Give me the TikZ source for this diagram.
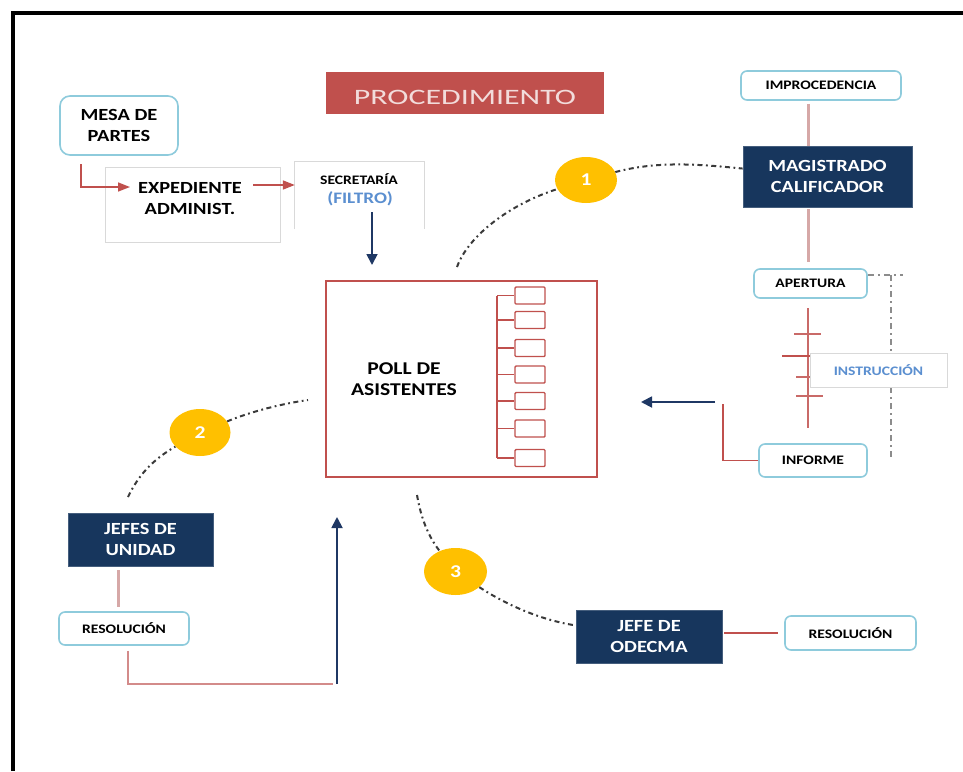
\documentclass[tikz,border=0pt]{standalone}
\usepackage{fontspec}
\setmainfont{Carlito}
\newfontfamily\bodyfont[FakeStretch=1.2]{Carlito}
\newfontfamily\headfont[FakeStretch=1.45]{Carlito}
\usetikzlibrary{arrows.meta,shapes.geometric}

\definecolor{brick}{HTML}{C0504D}
\definecolor{navy}{HTML}{17365D}
\definecolor{navyline}{HTML}{1F3864}
\definecolor{sky}{HTML}{8ECBDC}
\definecolor{paleline}{HTML}{D9D9D9}
\definecolor{rosy}{HTML}{D6A8A7}
\definecolor{salmon}{HTML}{D38B8A}
\definecolor{amber}{HTML}{FFC000}
\definecolor{steel}{HTML}{5B8FD0}
\definecolor{blush}{HTML}{F2DCDB}
\definecolor{ink}{HTML}{3A3A3A}
\definecolor{ash}{HTML}{8C8C8C}

\tikzset{
  bigtxt/.style={font=\bodyfont\bfseries\fontsize{17}{21}\selectfont, align=center, inner sep=0pt},
  smalltxt/.style={font=\bodyfont\bfseries\fontsize{13}{16}\selectfont, align=center, inner sep=0pt},
  pill/.style={smalltxt, draw=sky, line width=1.6pt, rounded corners=6pt, fill=white},
  plainbox/.style={draw=paleline, line width=1pt, inner sep=0pt},
  navybox/.style={bigtxt, fill=navy, draw=navy!80!white, line width=0.8pt, text=white},
  titlebox/.style={fill=brick, inner sep=0pt, minimum width=278pt, minimum height=42pt},
  badge/.style={ellipse, fill=amber, inner sep=0pt, text=white,
                font=\bodyfont\bfseries\fontsize{18}{20}\selectfont},
  member/.style={draw=brick, line width=1.4pt, fill=white, rounded corners=1pt,
                 minimum width=30pt, minimum height=17pt, inner sep=0pt},
  redarrow/.style={draw=brick, line width=1.6pt, -{Triangle[length=12pt,width=9pt]}},
  navyarrow/.style={draw=navyline, line width=1.8pt, -{Triangle[length=11pt,width=11pt]}},
  redline/.style={draw=brick, line width=1.5pt},
  rosyline/.style={draw=rosy, line width=3pt},
  phaseline/.style={draw=ink, line width=2pt, dash pattern=on 5pt off 3.5pt on 1.8pt off 3.5pt},
  railline/.style={draw=ash, line width=2.2pt, dash pattern=on 6pt off 4pt on 2pt off 4pt},
}

\begin{document}
\begin{tikzpicture}[x=1pt,y=-1pt]
\useasboundingbox (0,0) rectangle (963,771);
\fill[white] (0,0) rectangle (963,771);

% frame
\draw[line width=4pt, line join=miter] (13,771) -- (13,13) -- (963,13);

% heading
\node[titlebox] (title) at (465,93) {};
\node[inner sep=0pt, text=blush, font=\headfont\fontsize{22}{24}\selectfont] (titlet) at (465,97) {PROCEDIMIENTO};

% intake chain
\node[pill, rounded corners=10pt, bigtxt, minimum width=118pt, minimum height=59pt] (mesa) at (119,125.5) {MESA DE\\PARTES};
\node[plainbox, minimum width=175pt, minimum height=75pt] (exp) at (192.5,204.5) {};
\node[bigtxt] (expt) at (190,199) {EXPEDIENTE\\ADMINIST.};
\node[minimum width=129pt, minimum height=67pt, inner sep=0pt] (sec) at (359.5,195.5) {};
\draw[paleline, line width=1pt] (sec.south west) -- (sec.north west) -- (sec.north east) -- (sec.south east);
\node[smalltxt] (sect) at (359,179) {SECRETARÍA};
\node[smalltxt, text=steel, font=\bodyfont\bfseries\fontsize{16}{18}\selectfont] (filt) at (360,199) {(FILTRO)};

\coordinate (mesaout) at (81,164);
\coordinate (expin) at (130,187);
\draw[redarrow] (mesaout) |- (expin);
\coordinate (expout) at (253,185);
\draw[redarrow] (expout) -- (expout -| sec.west);
\coordinate (secout) at (372,212);
\draw[navyarrow, shorten >=16pt] (secout) -- (secout |- exp.south) -- (secout |- 0,281);

% central pool
\node[draw=brick, line width=2.5pt, minimum width=271pt, minimum height=196pt, inner sep=0pt] (poll) at (461.5,379) {};
\node[bigtxt, font=\bodyfont\bfseries\fontsize{18}{21.5}\selectfont] (pollt) at (404,379) {POLL DE\\ASISTENTES};
\coordinate (trunk) at (497,0);
\foreach \i/\yy in {1/295.5,2/320,3/348,4/374.5,5/401,6/428.5,7/458} {
  \node[member] (mem\i) at (530,\yy) {};
  \draw[redline] (trunk |- mem\i.west) -- (mem\i.west);
}
\draw[redline] (trunk |- mem1.west) -- (trunk |- mem7.west);

% phase badges
\node[badge, minimum width=62pt, minimum height=46pt] (c1) at (586,180) {1};
\node[badge, minimum width=61pt, minimum height=47pt] (c2) at (200,432.5) {2};
\node[badge, minimum width=63pt, minimum height=47pt] (c3) at (455.5,571.5) {3};

% right column
\node[pill, minimum width=160pt, minimum height=29pt] (imp) at (821,85.5) {IMPROCEDENCIA};
\node[navybox, minimum width=169pt, minimum height=61pt] (mag) at (827.5,176.5) {MAGISTRADO\\CALIFICADOR};
\node[pill, minimum width=113pt, minimum height=29pt] (ape) at (810.5,283.5) {APERTURA};
\coordinate (spine) at (808,0);
\draw[rosyline] ([yshift=-3pt]imp.south -| spine) -- (mag.north -| spine);
\draw[rosyline] ([yshift=-2pt]mag.south -| spine) -- ([yshift=6pt]ape.north -| spine);

\draw[railline] ([yshift=8.5pt]ape.east) -- ++(35,0);
\coordinate (railtop) at (891,275);
\coordinate (railbot) at (891,457);
\draw[railline] (railtop) -- (railbot);

\coordinate (ticktop) at (808,308);
\coordinate (tickbot) at (808,428);
\draw[redline, draw=brick!85!white] (ticktop) -- (tickbot);
\draw[redline, draw=brick!85!white] (794,334) -- (821,334);
\draw[redline] (782,356) -- (810,356);
\draw[redline, draw=brick!85!white] (796,377) -- (823,377);
\draw[redline, draw=brick!85!white] (796,396) -- (823,396);

\node[plainbox, fill=white, smalltxt, text=steel, minimum width=137pt, minimum height=34pt] (ins) at (878.5,370) {INSTRUCCIÓN};
\node[pill, minimum width=108pt, minimum height=33pt] (inf) at (813,460.5) {INFORME};
\coordinate (bend) at (723,404);
\draw[redline] (inf.west) -| (bend);
\coordinate (backs) at (715,402);
\coordinate (backe) at (641,402);
\draw[navyarrow] (backs) -- (backe);

% lower left
\node[navybox, minimum width=145pt, minimum height=53pt] (jefes) at (140.5,539.5) {JEFES DE\\UNIDAD};
\node[pill, minimum width=130pt, minimum height=33pt] (res1) at (124,628.5) {RESOLUCIÓN};
\coordinate (jx) at (118,0);
\draw[rosyline] ([yshift=-4pt]jefes.south -| jx) -- ([yshift=4pt]res1.north -| jx);
\coordinate (rx) at (128,0);
\coordinate (retcorner) at (333,684);
\draw[draw=salmon, line width=2pt] ([yshift=-5pt]res1.south -| rx) |- (retcorner);
\coordinate (ups) at (337,684);
\coordinate (upe) at (337,517);
\draw[navyarrow] (ups) -- (upe);

% lower right
\node[navybox, minimum width=146pt, minimum height=53pt] (odecma) at (649,636.5) {JEFE DE\\ODECMA};
\node[pill, minimum width=131pt, minimum height=34pt] (res2) at (850.5,633) {RESOLUCIÓN};
\draw[redline] ([xshift=2pt]odecma.east |- res2.west) -- ([xshift=-6pt]res2.west);

% phase arcs
\coordinate (arc1s) at (457,267);
\draw[phaseline] (arc1s) .. controls (468,236) and (510,204) .. (c1);
\draw[phaseline] (c1) .. controls (660,160) and (705,165) .. (mag);
\coordinate (arc2s) at (128,497);
\coordinate (arc2e) at (308,400);
\draw[phaseline] (arc2s) .. controls (138,476) and (152,460) .. (c2);
\draw[phaseline] (c2) .. controls (250,412) and (280,404) .. (arc2e);
\coordinate (arc3s) at (417,495);
\draw[phaseline] (arc3s) .. controls (421,518) and (428,536) .. (c3);
\draw[phaseline] (c3) .. controls (505,604) and (540,620) .. (odecma);
\end{tikzpicture}
\end{document}
